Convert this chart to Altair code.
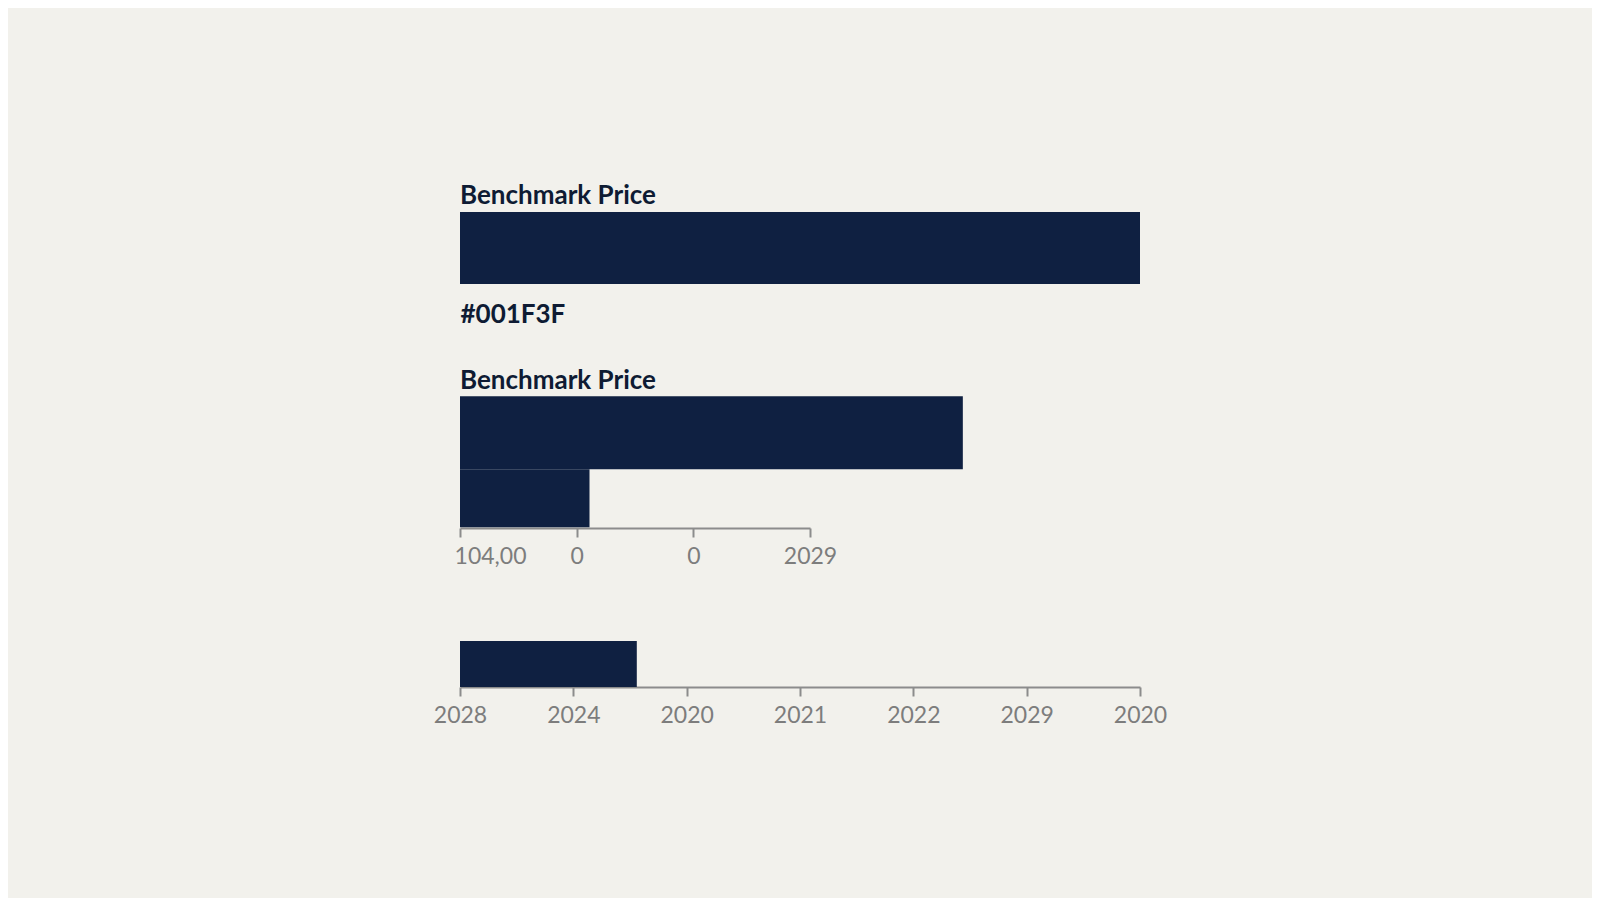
import json
import altair as alt
import pandas as pd

# ---- data ----
title_text = "Benchmark Price"
color_label = "#001F3F"

top_rows = ["r1"]
top_values = [6.0]

mid_rows = ["r1", "r2"]
mid_values = [4.31, 1.11]
mid_ticks = [0, 1, 2, 3]
mid_tick_labels = ["104,00", "0", "0", "2029"]

bottom_rows = ["r1"]
bottom_values = [1.56]
bottom_ticks = [0, 1, 2, 3, 4, 5, 6]
bottom_tick_labels = ["2028", "2024", "2020", "2021", "2022", "2029", "2020"]

# ---- styling ----
BG = "#f2f1ec"
BAR = "#0f2041"
INK = "#0e1b33"
AXIS = "#8c8c8c"
LABEL = "#7d7d7d"

axis_common = dict(
    domainColor=AXIS, domainWidth=2, tickColor=AXIS, tickWidth=2, tickSize=9,
    labelColor=LABEL, labelFont="Lato", labelFontSize=23, labelPadding=8,
    labelFlush=False, grid=False, title=None,
)


def panel_title(offset):
    return alt.Title(text=title_text, anchor="start", frame="group", font="Lato",
                     fontSize=26, fontWeight="bold", color=INK, offset=offset,
                     baseline="alphabetic")


# Panel 1
df1 = pd.DataFrame({"row": top_rows, "value": top_values})
p1 = alt.Chart(df1).mark_bar(color=BAR).encode(
    x=alt.X("value:Q", scale=alt.Scale(domain=[0, 6], nice=False),
            axis=alt.Axis(domain=False, ticks=False, labels=False, grid=False,
                          title=color_label, titleAnchor="start", titleAlign="left",
                          titleFont="Lato", titleFontSize=26, titleFontWeight="bold",
                          titleColor=INK, titlePadding=17)),
    y=alt.Y("row:N", scale=alt.Scale(paddingInner=0, paddingOuter=0), axis=None),
).properties(width=680, height=72, title=panel_title(-18))

# Panel 2
df2 = pd.DataFrame({"row": mid_rows, "value": mid_values})
p2 = alt.Chart(df2).mark_bar(color=BAR, clip=False).encode(
    x=alt.X("value:Q", scale=alt.Scale(domain=[0, 3], nice=False),
            axis=alt.Axis(values=mid_ticks, offset=-3,
                          labelExpr=f"{json.dumps(mid_tick_labels)}[datum.value]",
                          labelOffset={"condition": {"test": "datum.value == 0", "value": 30}, "value": 0},
                          **axis_common)),
    y=alt.Y("row:N", scale=alt.Scale(domain=mid_rows, paddingInner=0, paddingOuter=0), axis=None),
    size=alt.condition(alt.datum.row == mid_rows[0], alt.value(73), alt.value(58)),
).properties(width=350, height=131, title=panel_title(-19))

# Panel 3
df3 = pd.DataFrame({"row": bottom_rows, "value": bottom_values})
p3 = alt.Chart(df3).mark_bar(color=BAR).encode(
    x=alt.X("value:Q", scale=alt.Scale(domain=[0, 6], nice=False),
            axis=alt.Axis(values=bottom_ticks,
                          labelExpr=f"{json.dumps(bottom_tick_labels)}[datum.value]",
                          **axis_common)),
    y=alt.Y("row:N", scale=alt.Scale(paddingInner=0, paddingOuter=0), axis=None),
).properties(width=680, height=46)

chart = alt.vconcat(
    alt.vconcat(p1, p2, spacing=39),
    p3,
    spacing=71,
).properties(
    padding={"left": 424, "top": 174, "right": 424, "bottom": 170},
).configure(background=BG).configure_view(stroke="transparent")

chart.save("out.html", embed_options={"renderer": "svg", "actions": False})
